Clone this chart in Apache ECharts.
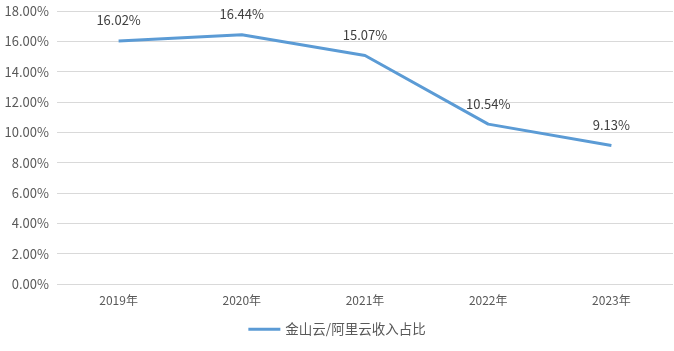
<!DOCTYPE html>
<html><head><meta charset="utf-8">
<script src="https://cdn.jsdelivr.net/npm/echarts@6/dist/echarts.min.js"></script>
<style>html,body{margin:0;padding:0;background:#fff}#c{width:674px;height:351px}</style>
</head><body><div id="c"></div>
<script>
const categories = ['2019年','2020年','2021年','2022年','2023年'];
const seriesName = '金山云/阿里云收入占比';
const values = [16.02, 16.44, 15.07, 10.54, 9.13];
const font = '"Microsoft YaHei","Noto Sans CJK SC","Liberation Sans",sans-serif';
const chart = echarts.init(document.getElementById('c'));
chart.setOption({
  animation:false,
  backgroundColor:'#fff',
  grid:{left:57,right:1,top:11,bottom:67,containLabel:false},
  legend:{bottom:10,left:'center',itemWidth:32,itemHeight:3,icon:'rect',itemGap:10,
    textStyle:{fontFamily:font,fontSize:13.5,color:'#595959'},data:[seriesName]},
  xAxis:{type:'category',data:categories,boundaryGap:true,
    axisLine:{show:false},axisTick:{show:false},
    axisLabel:{fontFamily:font,fontSize:12,color:'#595959',margin:10}},
  yAxis:{type:'value',min:0,max:18,interval:2,
    axisLabel:{fontFamily:font,fontSize:13,color:'#595959',margin:8,formatter:v=>v.toFixed(2)+'%'},
    splitLine:{lineStyle:{color:'#d9d9d9',width:1}},axisLine:{show:false},axisTick:{show:false}},
  series:[{name:seriesName,type:'line',data:values,symbol:'circle',symbolSize:0.1,showSymbol:true,
    lineStyle:{color:'#5B9BD5',width:3},itemStyle:{color:'#5B9BD5'},
    label:{show:true,position:'top',distance:14,fontFamily:font,fontSize:13,color:'#404040',
      formatter:p=>p.value.toFixed(2)+'%'}}]
});
</script></body></html>
